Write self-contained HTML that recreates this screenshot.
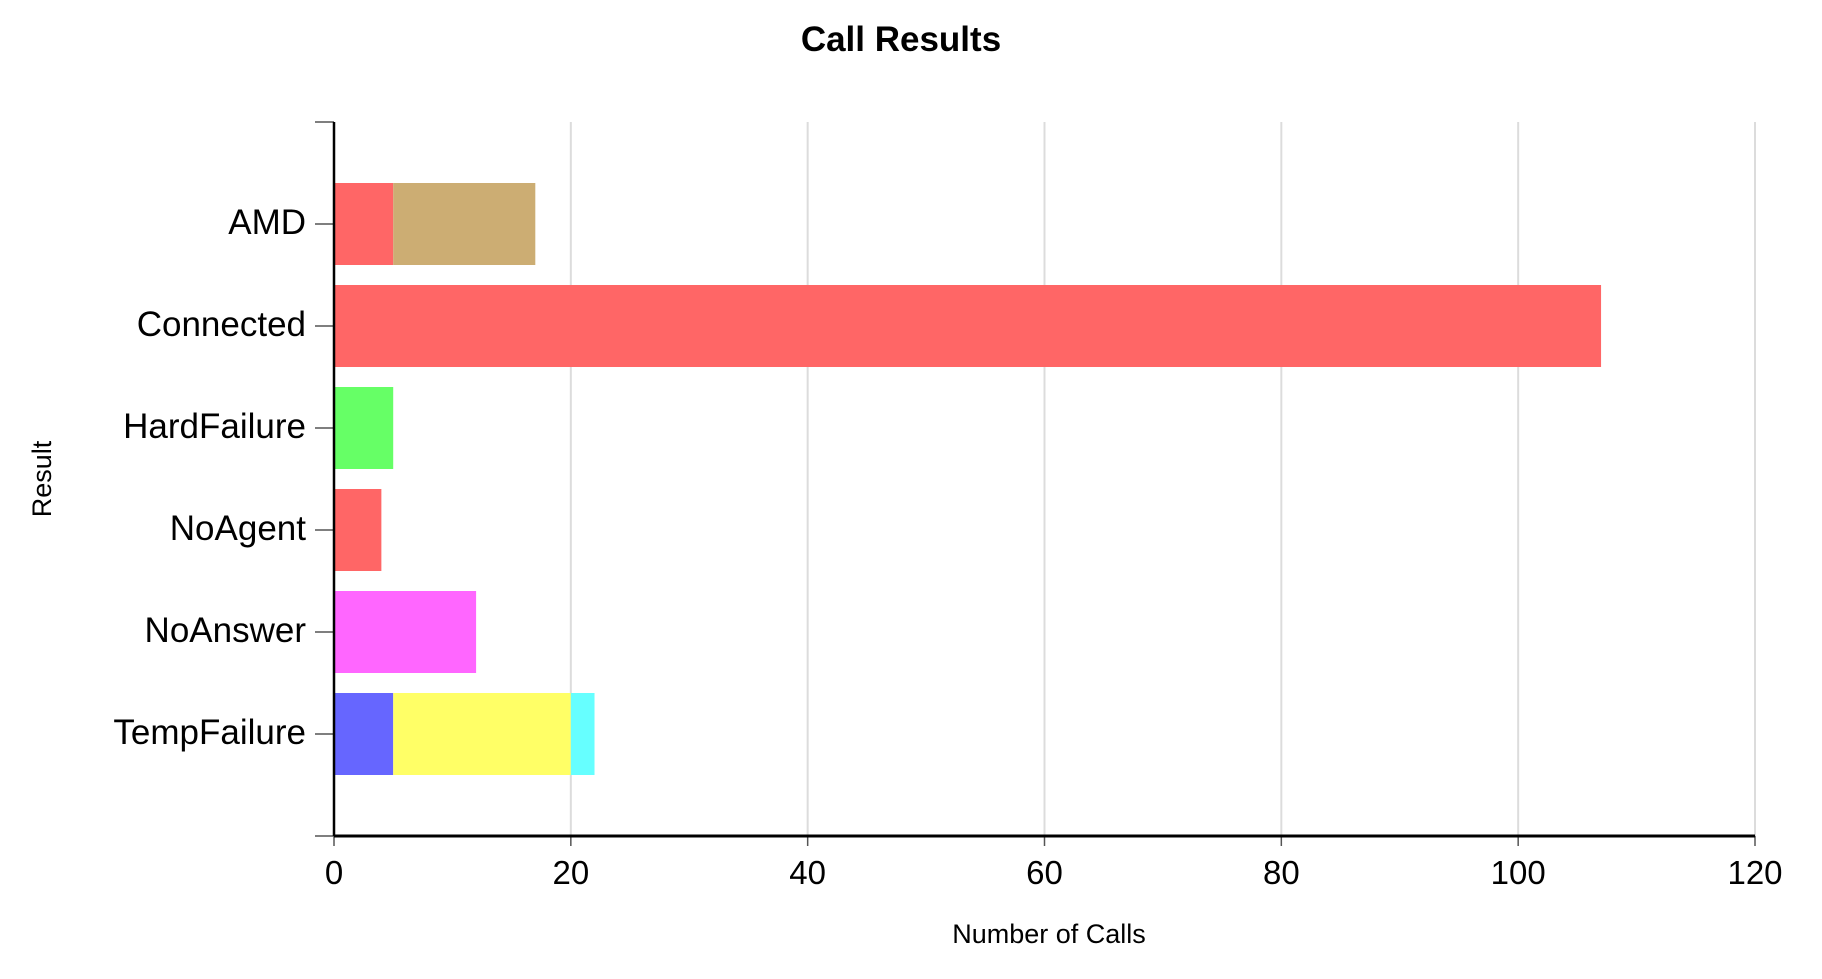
<!DOCTYPE html>
<html><head><meta charset="utf-8"><style>
body{margin:0;background:#fff;}
svg text{font-family:"Liberation Sans",Arial,sans-serif;fill:#000;}
</style></head><body>
<svg id="chart" width="1822" height="974">
<text x="901" y="51" text-anchor="middle" font-size="35" font-weight="bold">Call Results</text>
<text x="1049" y="943" text-anchor="middle" font-size="27">Number of Calls</text>
<text transform="translate(51,479) rotate(-90)" text-anchor="middle" font-size="27">Result</text>
<g id="grid"></g><g id="bars"></g><g id="axes"></g>
</svg>
<script>
const categories=["AMD","Connected","HardFailure","NoAgent","NoAnswer","TempFailure"];
const seg1=[5,107,5,4,12,5];
const seg2=[12,0,0,0,0,15];
const seg3=[0,0,0,0,0,2];
const seg1Colors=["#ff6666","#ff6666","#66ff66","#ff6666","#ff66ff","#6666ff"];
const seg2Colors=["#ccad73","#ff6666","#66ff66","#ff6666","#ff66ff","#ffff66"];
const seg3Colors=["#66ffff","#66ffff","#66ffff","#66ffff","#66ffff","#66ffff"];
const xTicks=[0,20,40,60,80,100,120];
const NS="http://www.w3.org/2000/svg";
const X0=334,X1=1755,XMAX=120,YT=122,YB=836;
const band=(YB-YT)/(categories.length+1);
function x(v){return X0+(X1-X0)*v/XMAX;}
function yc(i){return YT+band*(i+1);}
function mk(t,a,p){const e=document.createElementNS(NS,t);for(const k in a)e.setAttribute(k,a[k]);p.appendChild(e);return e;}
const grid=document.getElementById('grid'),bars=document.getElementById('bars'),axes=document.getElementById('axes');
xTicks.forEach(t=>{
 if(t>0){const g=mk('line',{x1:x(t),x2:x(t),y1:YT,y2:YB,stroke:'#dcdcdc','stroke-width':2},grid);
 
 }
 const tk=mk('line',{x1:x(t),x2:x(t),y1:YB,y2:YB+10,stroke:'#555','stroke-width':1.5},axes);
 
 
 const l=mk('text',{x:x(t),y:884,'text-anchor':'middle','font-size':33},axes);l.textContent=t;
 
 
});
const bh=82;
categories.forEach((c,i)=>{
 const segs=[[seg1[i],seg1Colors[i]],[seg2[i],seg2Colors[i]],[seg3[i],seg3Colors[i]]];
 let acc=0;
 segs.forEach((s,j)=>{ if(s[0]<=0)return;
  const r=mk('rect',{x:x(acc),y:yc(i)-bh/2,width:x(acc+s[0])-x(acc),height:bh,fill:s[1]},bars);
  
  
  acc+=s[0];});
 const tk=mk('line',{x1:315,x2:X0,y1:yc(i),y2:yc(i),stroke:'#555','stroke-width':1.5},axes);
 
 
 const l=mk('text',{x:306,y:yc(i)+10,'text-anchor':'end','font-size':35},axes);l.textContent=c;
 
 
});
[[315,YT],[315,YB]].forEach(p=>{const t=mk('line',{x1:p[0],x2:X0,y1:p[1],y2:p[1],stroke:'#555','stroke-width':1.5},axes);
 
 });
const ya=mk('line',{x1:X0,x2:X0,y1:YT,y2:YB,stroke:'#000','stroke-width':2.5},axes);


const xa=mk('line',{x1:X0,x2:X1,y1:YB,y2:YB,stroke:'#000','stroke-width':3},axes);


</script>
</body></html>
